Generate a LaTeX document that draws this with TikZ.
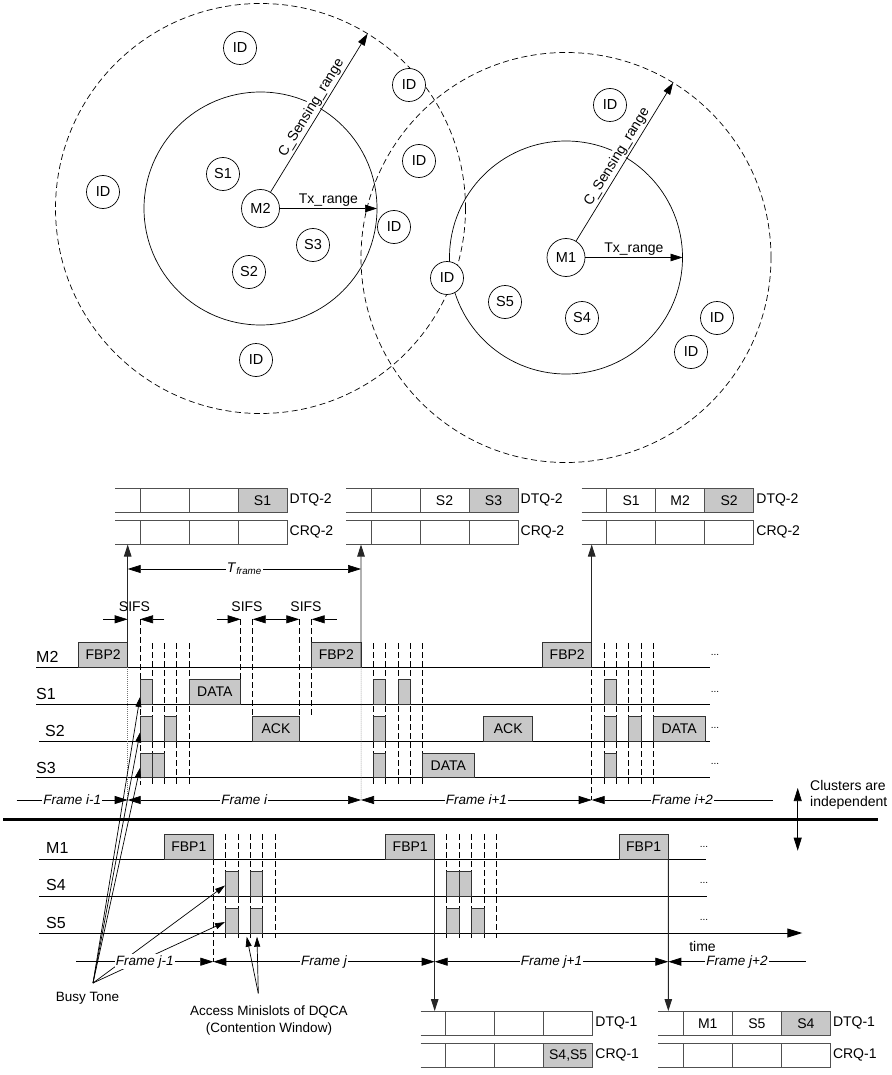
\documentclass[tikz,border=0pt]{standalone}
\usepackage{fontspec}
\setmainfont{Liberation Sans}
\usetikzlibrary{arrows.meta}
\definecolor{boxgray}{RGB}{200,200,200}
\definecolor{qgray}{RGB}{80,80,80}

% time slot box: name, left x, baseline y, width, text
\newcommand\tslot[5]{\node[slot,minimum width=#4pt] (#1) at (#2,#3) {#5};}
% queue pair (DTQ over CRQ): left x, top y, queue number
\newcommand\qgrid[3]{%
  \draw[qline] (#1,#2) -- ++(172,0) (#1,#2+24.5) -- ++(172,0)
               (#1,#2+32) -- ++(172,0) (#1,#2+56.5) -- ++(172,0);
  \foreach \k in {25,74,123,172}{
    \draw[qline] (#1+\k,#2) -- ++(0,24.5) (#1+\k,#2+32) -- ++(0,24.5);}
  \node[qlab] at (#1+172,#2+12.25) {DTQ-#3};
  \node[qlab] at (#1+172,#2+44.25) {CRQ-#3};}

\begin{document}
\begin{tikzpicture}[x=1pt,y=-1pt,
  >={Triangle[length=12pt,width=7.5pt]},
  every node/.style={font=\fontsize{14}{16}\selectfont},
  dev/.style={circle,draw,fill=white,minimum size=33pt,inner sep=0pt,line width=0.7pt,
              font=\fontsize{14.5}{16}\selectfont},
  hub/.style={dev,minimum size=38pt},
  txcircle/.style={line width=0.7pt},
  cscircle/.style={line width=0.7pt,dash pattern=on 6pt off 3.5pt},
  slot/.style={draw=black!80,fill=boxgray,line width=0.9pt,minimum height=24.5pt,
               inner sep=0pt,outer sep=0pt,anchor=south west},
  tline/.style={line width=0.9pt},
  mini/.style={line width=0.8pt,dash pattern=on 6pt off 3pt},
  faint/.style={line width=0.5pt,black!55,dash pattern=on 1pt off 1pt},
  vline/.style={line width=0.9pt,black!85},
  qline/.style={line width=1pt,qgray},
  qlab/.style={anchor=west,inner sep=2.5pt},
  rowlab/.style={anchor=west,inner sep=0pt,font=\fontsize{16}{18}\selectfont},
  flab/.style={fill=white,inner sep=1pt,font=\fontsize{13.5}{15}\selectfont\itshape},
  farrow/.style={line width=0.7pt,>={Triangle[length=13pt,width=8pt]}},
  ann/.style={font=\fontsize{13.5}{17}\selectfont,align=center},
  pointer/.style={line width=0.7pt,->,>={Triangle[length=10pt,width=6pt]}},
  dots/.style={font=\fontsize{10}{12}\selectfont,inner sep=0pt}]
\useasboundingbox (0,0) rectangle (891,1075);

% ---------------- two clusters with their ranges ----------------
\coordinate (c2) at (260.5,208.5);
\coordinate (c1) at (566,257.5);
\draw[cscircle] (c2) circle[radius=205pt];
\draw[cscircle] (c1) circle[radius=205pt];
\draw[txcircle] (c2) circle[radius=116.5pt];
\draw[txcircle] (c1) circle[radius=116.5pt];

\node[hub] (m2) at (c2) {M2};
\node[dev] (s1) at (223,174) {S1};
\node[dev] (s2) at (249,272) {S2};
\node[dev] (s3) at (313,245) {S3};
\node[hub] (m1) at (c1) {M1};
\node[dev] (s5) at (505,302) {S5};
\node[dev] (s4) at (582,318) {S4};

\node[dev] (id1) at (240,48) {ID};
\node[dev] (id2) at (409,85) {ID};
\node[dev] (id3) at (103,192) {ID};
\node[dev] (id4) at (419,161) {ID};
\node[dev] (id5) at (394,227) {ID};
\node[dev] (id6) at (447,278) {ID};
\node[dev] (id7) at (256,360) {ID};
\node[dev] (id8) at (610,105) {ID};
\node[dev] (id9) at (717,318) {ID};
\node[dev] (id10) at (691,352) {ID};

\coordinate (tx2) at (377,208.5);
\coordinate (cs2) at (367.6,33.7);
\coordinate (tx1) at (682.5,257.5);
\coordinate (cs1) at (673.1,82.7);
\draw[txcircle,->] (m2) -- node[above=1pt,inner sep=1pt]{Tx\_range} (tx2);
\draw[txcircle,->] (m2) -- node[above=1pt,sloped,fill=white,inner sep=1pt]{C\_Sensing\_range} (cs2);
\draw[txcircle,->] (m1) -- node[above=1pt,inner sep=1pt]{Tx\_range} (tx1);
\draw[txcircle,->] (m1) -- node[above=1pt,sloped,fill=white,inner sep=1pt]{C\_Sensing\_range} (cs1);

% ---------------- queues of cluster 2 ----------------
\fill[boxgray] (238,488) rectangle (287,512.5);
\fill[boxgray] (469,488) rectangle (518,512.5);
\fill[boxgray] (704.7,488) rectangle (753.7,512.5);
\qgrid{115}{488}{2}
\qgrid{346}{488}{2}
\qgrid{581.7}{488}{2}
\node (qa) at (262.5,500.25) {S1};
\node (qb) at (444.5,500.25) {S2};
\node (qc) at (493.5,500.25) {S3};
\node (qd) at (631.2,500.25) {S1};
\node (qe) at (680.2,500.25) {M2};
\node (qf) at (729.2,500.25) {S2};

% ---------------- queues of cluster 1 ----------------
\fill[boxgray] (543.7,1043) rectangle (592.7,1067.5);
\fill[boxgray] (781.3,1011) rectangle (830.3,1035.5);
\qgrid{420.7}{1011}{1}
\qgrid{658.3}{1011}{1}
\node (qg) at (568.2,1055.25) {S4,S5};
\node (qh) at (707.8,1023.25) {M1};
\node (qi) at (756.8,1023.25) {S5};
\node (qj) at (805.8,1023.25) {S4};

% ---------------- contention minislots (dashed) ----------------
\foreach \x in {152.3,164.3,176.7,189, 373.3,385.7,398,410.3,422.7, 604.3,616.7,628.7,641,653.3}
  \draw[mini] (\x,643) -- (\x,784.5);
\draw[mini] (140,619.3) -- (140,784.5);
\draw[mini] (240.7,619.3) -- (240.7,680);
\foreach \x in {252.7,299.3,311.7} \draw[mini] (\x,619.3) -- (\x,716.7);
\draw[mini] (591.7,643) -- (591.7,800);
\foreach \x in {225.7,238,250.3,262.7,275, 446.7,459.3,471.7,484,496.3}
  \draw[mini] (\x,834) -- (\x,938.3);
\draw[mini] (213.3,859) -- (213.3,961.7);

% ---------------- time lines ----------------
\draw[tline] (36,667.3) -- (710,667.3);
\draw[tline] (36,704) -- (710,704);
\draw[tline] (39,741) -- (710,741);
\draw[tline] (36,777.7) -- (710,777.7);
\node[rowlab] (lm2) at (36,657) {M2};
\node[rowlab] (ls1) at (36,694) {S1};
\node[rowlab] (ls2) at (45,731) {S2};
\node[rowlab] (ls3) at (36,768) {S3};
\foreach \y in {655,692,728,764} \node[dots] at (715,\y) {...};

\draw[tline] (39,859) -- (705.7,859);
\draw[tline] (39,896) -- (707.3,896);
\draw[tline,->,>={Triangle[length=15pt,width=9pt]}] (39,933) -- (802.3,933);
\node[rowlab] (lm1) at (46,848.3) {M1};
\node[rowlab] (ls4) at (46,885.3) {S4};
\node[rowlab] (ls5) at (46,922.7) {S5};
\foreach \y in {846.7,883.3,920} \node[dots] at (704,\y) {...};
\node (time) at (702.5,946.7) {time};

% ---------------- cluster 2 slots ----------------
\tslot{fbpa}{78.7}{667.3}{49}{FBP2}
\tslot{fbpb}{311.7}{667.3}{49.3}{FBP2}
\tslot{fbpc}{542.7}{667.3}{49}{FBP2}
\tslot{ba1}{140}{704}{12.3}{}
\tslot{dataa}{189}{704}{51.7}{DATA}
\tslot{bb1}{373.3}{704}{12.4}{}
\tslot{bb2}{398}{704}{12.3}{}
\tslot{bc1}{604.3}{704}{12.4}{}
\tslot{ba2}{140}{741}{12.3}{}
\tslot{ba3}{164.3}{741}{12.4}{}
\tslot{acka}{252.7}{741}{46.6}{ACK}
\tslot{bb3}{373.3}{741}{12.4}{}
\tslot{ackb}{483.7}{741}{49}{ACK}
\tslot{bc2}{604.3}{741}{12.4}{}
\tslot{bc3}{628.7}{741}{12.3}{}
\tslot{datac}{653.3}{741}{51.7}{DATA}
\tslot{ba4}{140}{777.7}{12.3}{}
\tslot{ba5}{152.3}{777.7}{12}{}
\tslot{bb4}{373.3}{777.7}{12.4}{}
\tslot{datab}{422.7}{777.7}{51.3}{DATA}
\tslot{bc4}{604.3}{777.7}{12.4}{}

% ---------------- cluster 1 slots ----------------
\tslot{fbp1a}{164.3}{859}{49}{FBP1}
\tslot{fbp1b}{385.7}{859}{49}{FBP1}
\tslot{fbp1c}{619}{859}{49.3}{FBP1}
\tslot{ca1}{225.7}{896}{12.3}{}
\tslot{ca2}{250.3}{896}{12.4}{}
\tslot{cb1}{446.7}{896}{12.6}{}
\tslot{cb2}{459.3}{896}{12.4}{}
\tslot{ca3}{225.7}{933}{12.3}{}
\tslot{ca4}{250.3}{933}{12.4}{}
\tslot{cb3}{446.7}{933}{12.6}{}
\tslot{cb4}{471.7}{933}{12.3}{}

% ---------------- frame boundaries feeding the queues ----------------
\coordinate (qin1) at (127.7,544.5);
\coordinate (qin2) at (361,544.5);
\coordinate (qin3) at (591.7,544.5);
\coordinate (qin4) at (434.7,1011);
\coordinate (qin5) at (668.3,1011);
\coordinate (fu0) at (16.7,800);
\coordinate (fu1) at (127.7,800);
\coordinate (fu2) at (361,800);
\coordinate (fu3) at (591.7,800);
\coordinate (fu4) at (773,800);
\coordinate (fl0) at (76,961.7);
\coordinate (fl1) at (213.3,961.7);
\coordinate (fl2) at (434.7,961.7);
\coordinate (fl3) at (668.3,961.7);
\coordinate (fl4) at (805.7,961.7);

\draw[vline,->] (fbpa.south east) -- (qin1);
\draw[vline,->] (fbpb.south east) -- (qin2);
\draw[vline,->] (fbpc.south east) -- (qin3);
\draw[faint] (fbpa.south east) -- (fu1);
\draw[faint] (fbpb.south east) -- (fu2);
\draw[vline,->] (fbp1b.south east) -- (qin4);
\draw[vline,->] (fbp1c.south east) -- (qin5);

% T_frame
\coordinate (tf1) at (127.7,569);
\coordinate (tf2) at (361,569);
\draw[farrow,<->] (tf1) -- node[fill=white,inner sep=1pt]{\textit{T}\textsubscript{\textit{frame}}} (tf2);

% SIFS markers
\draw[farrow,->] (103.3,619.3) -- (127.7,619.3);
\draw[farrow,->] (164.3,619.3) -- (140,619.3);
\draw[farrow,->] (216.7,619.3) -- (240.7,619.3);
\draw[farrow,<->] (252.7,619.3) -- (299.3,619.3);
\draw[farrow,->] (336.7,619.3) -- (311.7,619.3);
\node (sifa) at (134.5,606.7) {SIFS};
\node (sifb) at (247,606.7) {SIFS};
\node (sifc) at (306,606.7) {SIFS};

% ---------------- annotations ----------------
\node[ann] (busy) at (87.5,998.3) {Busy Tone};
\coordinate (bt) at (93,983);
\draw[pointer] (bt) -- (140,697);
\draw[pointer] (bt) -- (140,732.5);
\draw[pointer] (bt) -- (140,768);
\draw[pointer] (bt) -- (225,885.5);
\draw[pointer] (bt) -- (225,922);

\node[ann] (acc) at (269,1020.8) {Access Minislots of DQCA\\(Contention Window)};
\coordinate (am) at (258.3,993.3);
\draw[pointer] (am) -- (246.7,936.7);
\draw[pointer] (am) -- (257,936.7);

% ---------------- frame spans ----------------
\draw[farrow,->] (fu0) -- node[flab]{Frame i-1} (fu1);
\draw[farrow,<->] (fu1) -- node[flab]{Frame i} (fu2);
\draw[farrow,<->] (fu2) -- node[flab]{Frame i+1} (fu3);
\draw[farrow,<-] (fu3) -- node[flab]{Frame i+2} (fu4);
\draw[farrow,->] (fl0) -- node[flab]{Frame j-1} (fl1);
\draw[farrow,<->] (fl1) -- node[flab]{Frame j} (fl2);
\draw[farrow,<->] (fl2) -- node[flab]{Frame j+1} (fl3);
\draw[farrow,<-] (fl3) -- node[flab]{Frame j+2} (fl4);

% ---------------- separation of the clusters ----------------
\draw[line width=3.5pt] (3,819.3) -- (878,819.3);
\draw[farrow,<->] (797.7,788) -- (797.7,850.7);
\node[anchor=west,align=left,inner sep=0pt,font=\fontsize{14}{16.6}\selectfont] (indep) at (810,795) {Clusters are\\independent};
\end{tikzpicture}
\end{document}
